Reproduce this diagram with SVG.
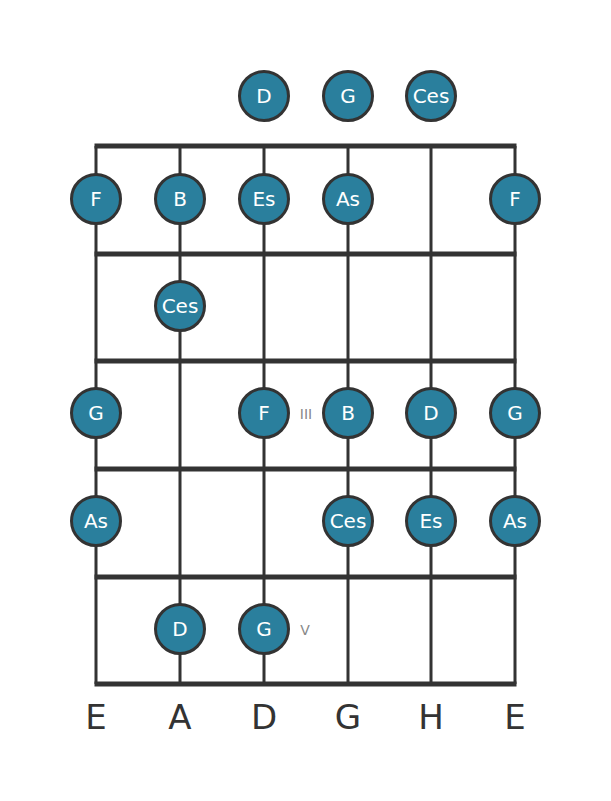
<svg xmlns="http://www.w3.org/2000/svg" width="611" height="801" viewBox="0 0 611 801">
<style>
.str{stroke:#333;stroke-width:3}
.fret{stroke:#333;stroke-width:5}
.dot circle{fill:#2a7f9d;stroke:#333;stroke-width:3}
.dot text{fill:#fff;font-family:"DejaVu Sans",sans-serif;font-size:20px;text-anchor:middle;dominant-baseline:central}
.lbl{fill:#333;font-family:"DejaVu Sans",sans-serif;font-size:34px;text-anchor:middle}
.pos{fill:#888;font-family:"DejaVu Sans",sans-serif;font-size:14px;text-anchor:middle;dominant-baseline:central}
</style>
<rect width="611" height="801" fill="#fff"/>
<g id="connectors">
<line class="str" x1="96" y1="146" x2="96" y2="684"/>
<line class="str" x1="180" y1="146" x2="180" y2="684"/>
<line class="str" x1="264" y1="146" x2="264" y2="684"/>
<line class="str" x1="348" y1="146" x2="348" y2="684"/>
<line class="str" x1="431" y1="146" x2="431" y2="684"/>
<line class="str" x1="515" y1="146" x2="515" y2="684"/>
<line class="fret" x1="94.5" y1="146" x2="516.5" y2="146"/>
<line class="fret" x1="94.5" y1="254" x2="516.5" y2="254"/>
<line class="fret" x1="94.5" y1="361" x2="516.5" y2="361"/>
<line class="fret" x1="94.5" y1="469" x2="516.5" y2="469"/>
<line class="fret" x1="94.5" y1="577" x2="516.5" y2="577"/>
<line class="fret" x1="94.5" y1="684" x2="516.5" y2="684"/>
</g>
<g id="n1" class="dot"><circle cx="264" cy="96" r="24.5"/><text x="264" y="96">D</text></g>
<g id="n2" class="dot"><circle cx="348" cy="96" r="24.5"/><text x="348" y="96">G</text></g>
<g id="n3" class="dot"><circle cx="431" cy="96" r="24.5"/><text x="431" y="96">Ces</text></g>
<g id="n4" class="dot"><circle cx="96" cy="199" r="24.5"/><text x="96" y="199">F</text></g>
<g id="n5" class="dot"><circle cx="180" cy="199" r="24.5"/><text x="180" y="199">B</text></g>
<g id="n6" class="dot"><circle cx="264" cy="199" r="24.5"/><text x="264" y="199">Es</text></g>
<g id="n7" class="dot"><circle cx="348" cy="199" r="24.5"/><text x="348" y="199">As</text></g>
<g id="n8" class="dot"><circle cx="515" cy="199" r="24.5"/><text x="515" y="199">F</text></g>
<g id="n9" class="dot"><circle cx="180" cy="306" r="24.5"/><text x="180" y="306">Ces</text></g>
<g id="n10" class="dot"><circle cx="96" cy="413" r="24.5"/><text x="96" y="413">G</text></g>
<g id="n11" class="dot"><circle cx="264" cy="413" r="24.5"/><text x="264" y="413">F</text></g>
<g id="n12" class="dot"><circle cx="348" cy="413" r="24.5"/><text x="348" y="413">B</text></g>
<g id="n13" class="dot"><circle cx="431" cy="413" r="24.5"/><text x="431" y="413">D</text></g>
<g id="n14" class="dot"><circle cx="515" cy="413" r="24.5"/><text x="515" y="413">G</text></g>
<g id="n15" class="dot"><circle cx="96" cy="521" r="24.5"/><text x="96" y="521">As</text></g>
<g id="n16" class="dot"><circle cx="348" cy="521" r="24.5"/><text x="348" y="521">Ces</text></g>
<g id="n17" class="dot"><circle cx="431" cy="521" r="24.5"/><text x="431" y="521">Es</text></g>
<g id="n18" class="dot"><circle cx="515" cy="521" r="24.5"/><text x="515" y="521">As</text></g>
<g id="n19" class="dot"><circle cx="180" cy="629" r="24.5"/><text x="180" y="629">D</text></g>
<g id="n20" class="dot"><circle cx="264" cy="629" r="24.5"/><text x="264" y="629">G</text></g>
<text class="pos" x="306" y="414">III</text>
<text class="pos" x="305" y="630">V</text>
<text class="lbl" x="96" y="729">E</text>
<text class="lbl" x="180" y="729">A</text>
<text class="lbl" x="264" y="729">D</text>
<text class="lbl" x="348" y="729">G</text>
<text class="lbl" x="431" y="729">H</text>
<text class="lbl" x="515" y="729">E</text>
</svg>
